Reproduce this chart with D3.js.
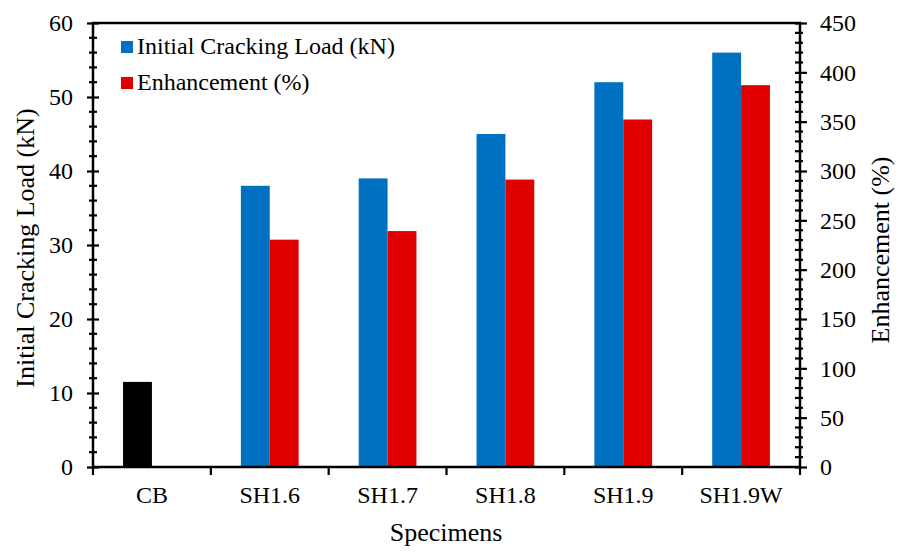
<!DOCTYPE html>
<html>
<head>
<meta charset="utf-8">
<script src="https://cdn.jsdelivr.net/npm/d3@7"></script>
<style>
  html, body { margin: 0; padding: 0; background: #fff; }
  svg { display: block; }
</style>
</head>
<body>
<svg id="chart" width="902" height="552"></svg>
<script>
// Specimens and measured values
const specimens = ["CB", "SH1.6", "SH1.7", "SH1.8", "SH1.9", "SH1.9W"];
const crackingLoad = [11.5, 38, 39, 45, 52, 56];          // kN
const enhancement = [0, 230.4, 239.1, 291.3, 352.2, 387.0]; // % over CB
const leftTicks = [0, 10, 20, 30, 40, 50, 60];
const rightTicks = [0, 50, 100, 150, 200, 250, 300, 350, 400, 450];
const seriesNames = ["Initial Cracking Load (kN)", "Enhancement (%)"];
const seriesColors = ["#0070C0", "#E00000"];
const controlColor = "#000000";

const FONT = "'Liberation Serif', 'Times New Roman', serif";

const svg = d3.select("#chart");
const m = { left: 93, right: 800, top: 23, bottom: 467 };

const x = d3.scaleBand().domain(specimens).range([m.left, m.right]).paddingInner(0).paddingOuter(0);
const yL = d3.scaleLinear().domain([0, 60]).range([m.bottom, m.top]);
const yR = d3.scaleLinear().domain([0, 450]).range([m.bottom, m.top]);

const barW = x.bandwidth() * 0.245;
const g = svg.append("g");

// Cracking load bars (left of centre); the control beam is drawn in black
g.selectAll("rect.load").data(specimens).join("rect")
  .attr("class", "load")
  .attr("x", d => x(d) + x.bandwidth() / 2 - barW)
  .attr("width", barW)
  .attr("y", (d, i) => yL(crackingLoad[i]))
  .attr("height", (d, i) => yL(0) - yL(crackingLoad[i]))
  .attr("fill", (d, i) => i === 0 ? controlColor : seriesColors[0]);

// Enhancement bars (right of centre), on the secondary axis
g.selectAll("rect.enh").data(specimens).join("rect")
  .attr("class", "enh")
  .attr("x", d => x(d) + x.bandwidth() / 2)
  .attr("width", barW)
  .attr("y", (d, i) => yR(enhancement[i]))
  .attr("height", (d, i) => yR(0) - yR(enhancement[i]))
  .attr("fill", seriesColors[1]);

const tickStyle = sel => {
  sel.attr("font-family", null).attr("font-size", null);
  sel.select(".domain").remove();
  sel.selectAll("line").attr("stroke", "#000").attr("stroke-width", 2.2);
  sel.selectAll("text").style("font-family", FONT).attr("font-size", 24).attr("fill", "#000");
};

// Left axis: minor ticks every 2 kN, crossing the axis line
const minorL = d3.range(0, 61, 2).filter(v => v % 10 !== 0);
g.selectAll("line.minL").data(minorL).join("line")
  .attr("x1", m.left - 4).attr("x2", m.left + 4)
  .attr("y1", d => yL(d)).attr("y2", d => yL(d))
  .attr("stroke", "#000").attr("stroke-width", 2.2);
const axL = g.append("g").attr("transform", `translate(${m.left},0)`)
  .call(d3.axisLeft(yL).tickValues(leftTicks).tickSize(6).tickPadding(14));
tickStyle(axL);
axL.selectAll(".tick line").attr("x2", -6).attr("x1", 6);

// Right axis: minor ticks every 10 %
const minorR = d3.range(0, 451, 10).filter(v => v % 50 !== 0);
g.selectAll("line.minR").data(minorR).join("line")
  .attr("x1", m.right - 5).attr("x2", m.right + 3)
  .attr("y1", d => yR(d)).attr("y2", d => yR(d))
  .attr("stroke", "#000").attr("stroke-width", 2.2);
const axR = g.append("g").attr("transform", `translate(${m.right},0)`)
  .call(d3.axisRight(yR).tickValues(rightTicks).tickSize(7).tickPadding(13));
tickStyle(axR);
axR.selectAll(".tick line").attr("x1", -5).attr("x2", 7);

// Bottom axis: ticks at category boundaries
const bounds = specimens.map(d => x(d)).concat([m.right]);
g.selectAll("line.bt").data(bounds).join("line")
  .attr("x1", d => d).attr("x2", d => d)
  .attr("y1", m.bottom).attr("y2", m.bottom + 8)
  .attr("stroke", "#000").attr("stroke-width", 2.2);
const axB = g.append("g").attr("transform", `translate(0,${m.bottom})`)
  .call(d3.axisBottom(x).tickSize(0).tickPadding(19));
tickStyle(axB);

// Plot frame
g.append("rect")
  .attr("x", m.left).attr("y", m.top)
  .attr("width", m.right - m.left).attr("height", m.bottom - m.top)
  .attr("fill", "none").attr("stroke", "#000").attr("stroke-width", 2.5);

// Axis titles
const title = (sel) => sel.style("font-family", FONT).attr("font-size", 26)
  .attr("text-anchor", "middle").attr("fill", "#000");
svg.append("text").attr("x", 446).attr("y", 541).call(title).text("Specimens");
svg.append("text").attr("transform", "translate(34,248) rotate(-90)").call(title)
  .text("Initial Cracking Load (kN)");
svg.append("text").attr("transform", "translate(889,250) rotate(-90)").call(title)
  .text("Enhancement (%)");

// Legend
const leg = svg.append("g").attr("transform", "translate(121,41)");
seriesNames.forEach((name, i) => {
  const row = leg.append("g").attr("transform", `translate(0,${i * 36})`);
  row.append("rect").attr("width", 12).attr("height", 12).attr("fill", seriesColors[i]);
  row.append("text").attr("x", 16).attr("y", 12.5).style("font-family", FONT)
    .attr("font-size", 24).attr("fill", "#000").text(name);
});
</script>
</body>
</html>
